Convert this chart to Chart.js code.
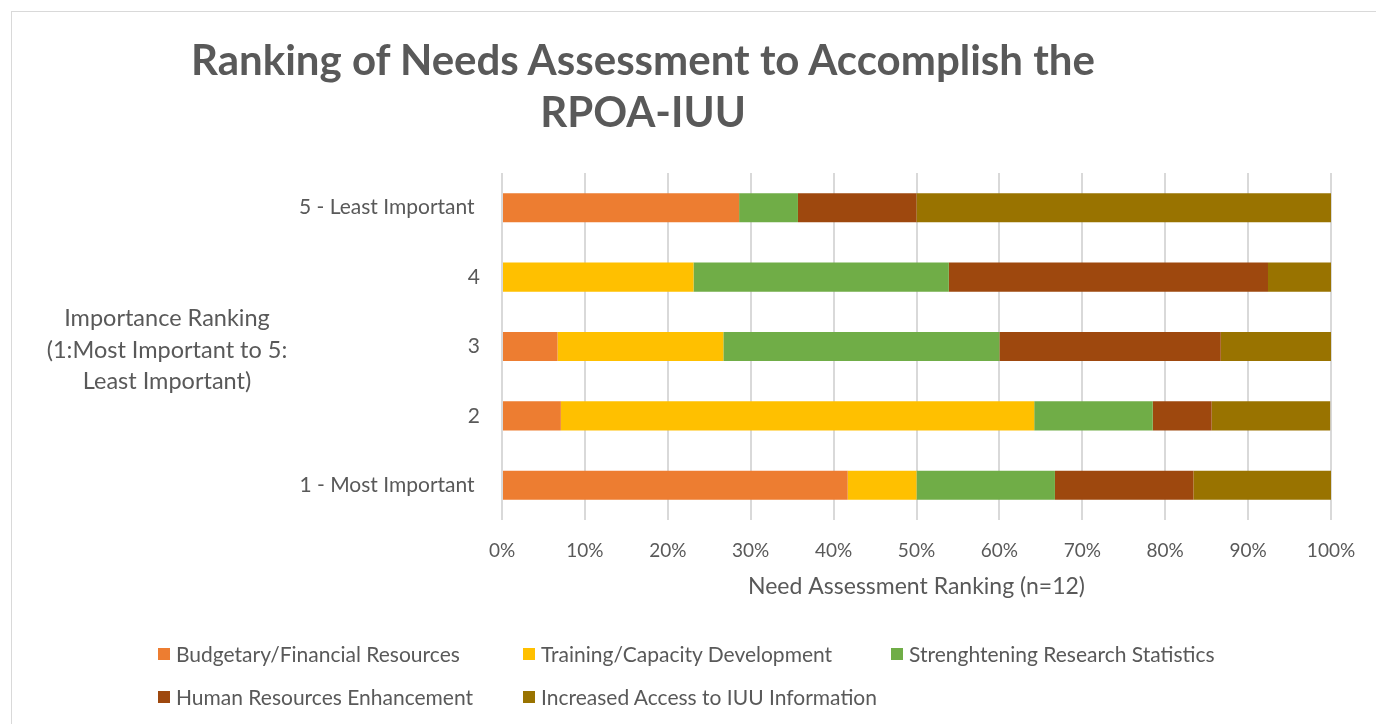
<!DOCTYPE html>
<html>
<head>
<meta charset="utf-8">
<script src="https://cdn.jsdelivr.net/npm/chart.js@4/dist/chart.umd.min.js"></script>
<style>
  body { margin: 0; background: #fff; font-family: Lato, sans-serif; color: #595959; }
  #wrap { position: relative; width: 1376px; height: 724px; overflow: hidden; }
  #frame { position: absolute; left: 11px; top: 11px; width: 1400px; height: 760px; border: 1.5px solid #d9d9d9; }
  #chart { position: absolute; left: 0; top: 0; }
  #title { position: absolute; left: 0; top: 33px; width: 1286px; text-align: center; font-weight: bold; font-size: 42px; line-height: 52px; }
  #ytitle { position: absolute; left: 17px; width: 300px; top: 302px; text-align: center; font-size: 23.5px; line-height: 31.5px; }
  .leg { position: absolute; font-size: 21px; line-height: 24px; white-space: nowrap; }
  .leg span { position: absolute; left: 0; top: 6px; width: 12px; height: 12px; }
  .leg b { font-weight: normal; margin-left: 18px; }
</style>
</head>
<body>
<div id="wrap">
  <div id="frame"></div>
  <canvas id="chart" width="1376" height="724"></canvas>
  <div id="title">Ranking of Needs Assessment to Accomplish the<br>RPOA-IUU</div>
  <div id="ytitle">Importance Ranking<br>(1:Most Important to 5:<br>Least Important)</div>
  <div id="legend"></div>
</div>
<script>
// Categories, top to bottom as drawn
const categories = ['5 - Least Important ', '4', '3', '2', '1 - Most Important '];

// Share of answers per need (%)
const budgetary = [28.6, 0, 6.7, 7.1, 41.7];
const training = [0, 23.1, 20.0, 57.1, 8.3];
const research = [7.1, 30.8, 33.3, 14.3, 16.7];
const human = [14.3, 38.5, 26.7, 7.1, 16.7];
const access = [50.0, 7.7, 13.3, 14.3, 16.7];

const xTicks = [0, 10, 20, 30, 40, 50, 60, 70, 80, 90, 100];

const series = [
  { label: 'Budgetary/Financial Resources', data: budgetary, color: '#ED7D31' },
  { label: 'Training/Capacity Development', data: training, color: '#FFC000' },
  { label: 'Strenghtening Research Statistics', data: research, color: '#70AD47' },
  { label: 'Human Resources Enhancement', data: human, color: '#9E480E' },
  { label: 'Increased Access to IUU Information', data: access, color: '#997300' },
];

const grey = '#595959';

new Chart(document.getElementById('chart'), {
  type: 'bar',
  data: {
    labels: categories,
    datasets: series.map((s) => ({
      label: s.label,
      data: s.data,
      backgroundColor: s.color,
      borderWidth: 0,
      barPercentage: 0.42,
      categoryPercentage: 1,
    })),
  },
  options: {
    indexAxis: 'y',
    responsive: false,
    animation: false,
    layout: { padding: { left: 0, right: 45, top: 173, bottom: 124 } },
    plugins: { legend: { display: false }, tooltip: { enabled: false } },
    scales: {
      x: {
        stacked: true,
        min: 0,
        max: 100,
        afterBuildTicks: (scale) => { scale.ticks = xTicks.map((v) => ({ value: v })); },
        afterFit: (scale) => { scale.height = 80; },
        ticks: { callback: (v) => v + '%', color: grey, font: { family: 'Lato', size: 19 }, padding: 19 },
        grid: { color: '#d9d9d9', lineWidth: 2, drawTicks: false },
        border: { display: false },
        title: {
          display: true,
          text: 'Need Assessment Ranking (n=12)',
          color: grey,
          font: { family: 'Lato', size: 23 },
          padding: { top: 0, bottom: 0 },
        },
      },
      y: {
        stacked: true,
        afterFit: (scale) => { scale.width = 502; },
        ticks: { color: grey, font: { family: 'Lato', size: 21 }, padding: 22 },
        grid: { display: false, drawTicks: false },
        border: { display: false },
      },
    },
  },
});

// Legend, laid out in columns like the original
const legendPos = [[158, 642], [523, 642], [891, 642], [158, 685], [523, 685]];
const legend = document.getElementById('legend');
series.forEach((s, i) => {
  const item = document.createElement('div');
  item.className = 'leg';
  item.style.left = legendPos[i][0] + 'px';
  item.style.top = legendPos[i][1] + 'px';
  item.innerHTML = `<span style="background:${s.color}"></span><b>${s.label}</b>`;
  legend.appendChild(item);
});
</script>
</body>
</html>
